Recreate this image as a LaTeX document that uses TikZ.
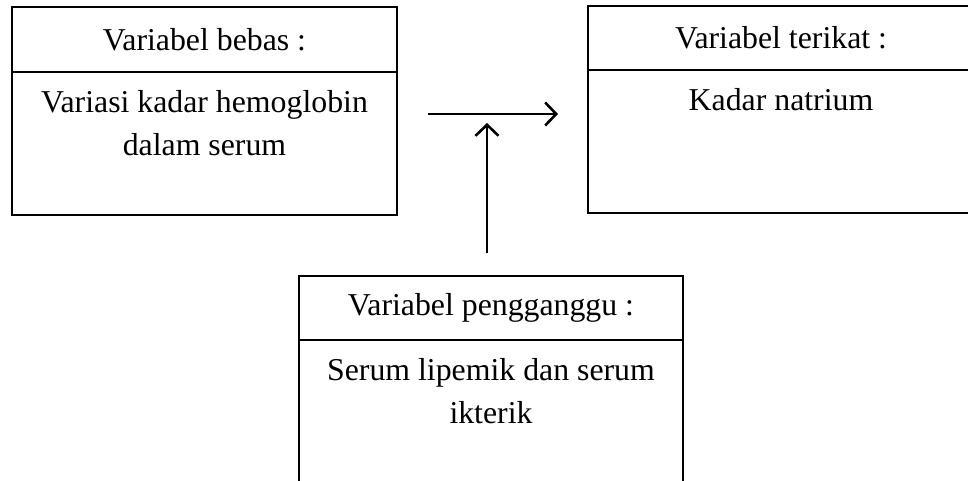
\documentclass[tikz,border=0pt]{standalone}
\usepackage{fontspec}
\setmainfont{Liberation Serif}
\usepackage{tikz}
\usetikzlibrary{arrows.meta,positioning}
\newcommand{\boxfont}{\fontsize{31.8pt}{43pt}\selectfont}
\tikzset{
  arrow/.style={-{Straight Barb[length=11pt,width=23pt]},line width=2.6pt},
  headbox/.style={draw,line width=1.2pt,outer sep=0pt,minimum height=65pt,
    anchor=north west,font=\boxfont},
  bodybox/.style={draw,line width=1.2pt,outer sep=0pt,minimum height=143pt},
  bodytext/.style={anchor=north,align=center,inner sep=0pt,yshift=-18pt,font=\boxfont}
}
\begin{document}
\begin{tikzpicture}[x=1pt,y=-1pt]
  \useasboundingbox (0,0) rectangle (968,481);
  \clip (0,0) rectangle (968,481);
  % independent variable
  \node[headbox,minimum width=385pt] (bebasH) at (12,7) {Variabel bebas :};
  \node[bodybox,minimum width=385pt,below=0pt of bebasH,
    label={[bodytext]north:Variasi kadar hemoglobin\\dalam serum}] (bebasB) {};
  % dependent variable
  \node[headbox,minimum width=386pt,minimum height=64pt] (terikatH) at (588,6) {Variabel terikat :};
  \node[bodybox,minimum width=386pt,below=0pt of terikatH,
    label={[bodytext]north:Kadar natrium}] (terikatB) {};
  % confounding variable
  \node[headbox,minimum width=384pt,minimum height=64pt] (pengH) at (299,276) {Variabel pengganggu :};
  \node[bodybox,minimum width=384pt,below=0pt of pengH,
    label={[bodytext]north:Serum lipemik dan serum\\ikterik}] (pengB) {};
  % arrows
  \coordinate (hstart) at (428,114);
  \coordinate (hend) at (558,114);
  \coordinate (vstart) at (487,253);
  \coordinate (vend) at (487,123);
  \draw[arrow] (hstart)--(hend);
  \draw[arrow] (vstart)--(vend);
\end{tikzpicture}
\end{document}
